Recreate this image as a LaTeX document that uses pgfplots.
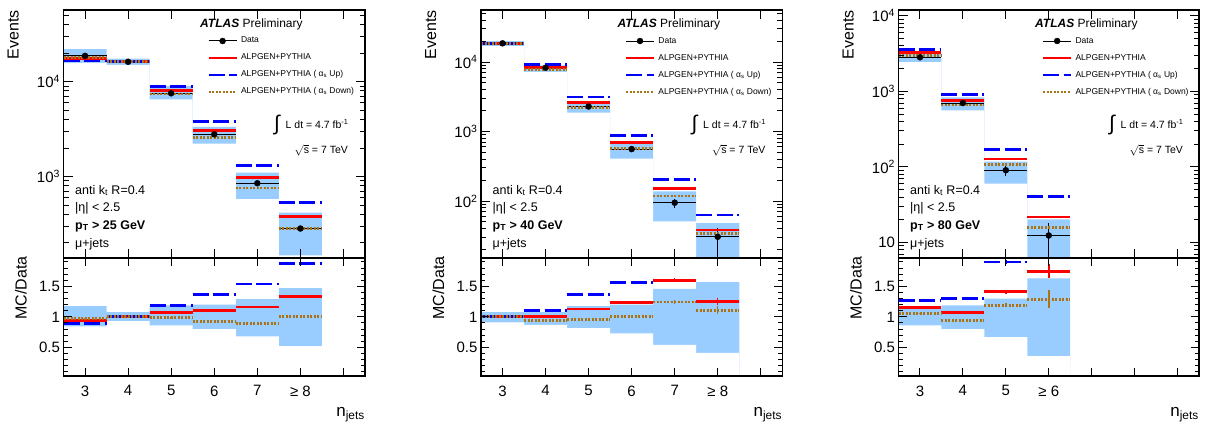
\documentclass[border=0pt]{standalone}
\usepackage{pgfplots}
\pgfplotsset{compat=1.18}
\usepackage{pgfplotstable}
\usepackage{fontspec}
\setmainfont{Liberation Sans}
\definecolor{bandblue}{RGB}{153,204,255}
\definecolor{mcred}{RGB}{255,0,0}
\definecolor{mcblue}{RGB}{0,0,255}
\definecolor{mcbrown}{RGB}{170,115,20}

% top panels: bin left edge, centre, data, MC (nominal, alpha_s up, alpha_s down), band low/high
\pgfplotstableread{
xl x d R U W BL BH
2.5 3 18700 17466 16550 18139 15802 21973
3.5 4 16200 16200 16200 16200 15066 17447
4.5 5 7550 8131 8985 7437 6493 8985
5.5 6 2790 3063 3814 2567 2232 3348
6.5 7 852 988 1312 758 579 1099
7.5 8 284 378 533 284 148 417
8.5 9 284 378 533 284 148 417
}\tA
\pgfplotstableread{
xl x d R U W BL BH
2.5 3 18600 18600 18600 18600 16889 20032
3.5 4 8280 8363 9149 7833 7204 8918
4.5 5 2290 2588 3130 2192 1866 2691
5.5 6 559 688 875 565 408 671
6.5 7 94.6 151 205 118 51.1 138
7.5 8 30.6 38.3 63.0 34.0 12.5 48.0
8.5 9 30.6 38.3 63.0 34.0 12.5 48.0
}\tB
\pgfplotstableread{
xl x d R U W BL BH
2.5 3 2820 3237 3581 2975 2425 3215
3.5 4 700 754 910 658 560 833
4.5 5 90.4 127.5 171.8 107.6 60.3 117.5
5.5 6 12.4 21.7 40.5 16.0 4.40 20.2
6.5 7 12.4 21.7 40.5 16.0 4.40 20.2
}\tC
% data error bars (low, high) on the top panels
\pgfplotstableread{
x y
3 18560
3 18840
3 nan
4 16070
4 16330
4 nan
5 7460
5 7640
5 nan
6 2735
6 2845
6 nan
7 822
7 882
7 nan
8 267
8 301
}\eA
\pgfplotstableread{
x y
3 18464
3 18736
3 nan
4 8189
4 8371
4 nan
5 2242
5 2338
5 nan
6 535
6 583
6 nan
7 80.6
7 108.6
7 nan
8 20.6
8 40.6
}\eB
\pgfplotstableread{
x y
3 2767
3 2873
3 nan
4 674
4 726
4 nan
5 75.4
5 105.4
5 nan
6 6.4
6 18.4
}\eC
% ratio panels: MC/Data with errors, band low/high
\pgfplotstableread{
xl x r re u ue w we lo hi
2.5 3 0.934 0.004 0.885 0.004 0.970 0.004 0.845 1.175
3.5 4 1.000 0.004 1.000 0.004 1.000 0.004 0.930 1.077
4.5 5 1.077 0.006 1.190 0.006 0.985 0.006 0.860 1.190
5.5 6 1.098 0.010 1.367 0.010 0.920 0.010 0.800 1.200
6.5 7 1.160 0.015 1.540 0.015 0.890 0.015 0.680 1.290
7.5 8 1.330 0.020 1.875 0.025 1.000 0.020 0.520 1.470
8.5 9 1.330 0.020 1.875 0.025 1.000 0.020 0.520 1.470
}\rA
\pgfplotstableread{
xl x r re u ue w we lo hi
2.5 3 1.000 0.004 1.000 0.004 1.000 0.004 0.908 1.077
3.5 4 1.010 0.006 1.105 0.006 0.946 0.006 0.870 1.077
4.5 5 1.130 0.010 1.367 0.010 0.957 0.010 0.815 1.175
5.5 6 1.230 0.015 1.565 0.015 1.010 0.015 0.730 1.200
6.5 7 1.600 0.030 2.170 0.040 1.245 0.030 0.540 1.460
7.5 8 1.250 0.060 2.060 0.070 1.110 0.070 0.410 1.570
8.5 9 1.250 0.060 2.060 0.070 1.110 0.070 0.410 1.570
}\rB
\pgfplotstableread{
xl x r re u ue w we lo hi
2.5 3 1.148 0.010 1.270 0.010 1.055 0.010 0.860 1.140
3.5 4 1.077 0.015 1.300 0.015 0.940 0.015 0.800 1.190
4.5 5 1.410 0.030 1.900 0.040 1.190 0.030 0.667 1.300
5.5 6 1.750 0.120 3.270 0.150 1.290 0.150 0.355 1.630
6.5 7 1.750 0.120 3.270 0.150 1.290 0.150 0.355 1.630
}\rC

\pgfplotsset{
  atlasbase/.style={scale only axis, xmin=2.5, xmax=9.5, xtick={3,4,5,6,7,8,9},
    axis on top,
    axis line style={line width=1.6pt},
    every tick/.style={black, line width=1pt},
    major tick length=9pt, minor tick length=5pt,
    tick label style={font=\fontsize{15}{15}\selectfont},
    anchor=north west},
  atlastop/.style={atlasbase, height=247.4pt, xticklabels={},
    legend style={at={(rel axis cs:0.466,0.905)}, anchor=north west, draw=none, fill=none,
      font=\fontsize{8.5}{8.5}\selectfont, row sep=7pt, column sep=2pt,
      nodes={inner sep=1pt, text height=6pt, text depth=2pt}},
    legend cell align=left},
  atlasrat/.style={atlasbase, height=118.3pt, ymin=0.03, ymax=1.97,
    ytick={0.5,1,1.5}, yticklabels={0.5,1,1.5},
    minor ytick={0.1,0.2,0.3,0.4,0.6,0.7,0.8,0.9,1.1,1.2,1.3,1.4,1.6,1.7,1.8,1.9},
    major tick length=8pt, minor tick length=4pt,
    xticklabel style={yshift=-6pt}},
  legdata/.style={legend image code/.code={\draw[black,line width=1pt](0pt,0pt)--(28pt,0pt);\fill[black](14pt,0pt) circle (3pt);}},
  legred/.style={legend image code/.code={\draw[mcred,line width=2.8pt](0pt,0pt)--(28pt,0pt);}},
  legblue/.style={legend image code/.code={\draw[mcblue,line width=2.8pt,dash pattern=on 16pt off 4.5pt](0pt,0pt)--(28pt,0pt);}},
  legbrown/.style={legend image code/.code={\draw[mcbrown,line width=2.8pt,dash pattern=on 2pt off 1.5pt](0pt,0pt)--(28pt,0pt);}},
  redline/.style={mcred, line width=2.8pt, jump mark left, mark=none, forget plot},
  blueline/.style={mcblue, line width=2.8pt, dash pattern=on 16pt off 4.5pt, jump mark left, mark=none, forget plot},
  brownline/.style={mcbrown, line width=2.8pt, dash pattern=on 2pt off 1.5pt, jump mark left, mark=none, forget plot},
}

% #1 top table, #2 error table, #3 index of duplicated last row
\newcommand{\topplots}[3]{%
  \addplot[forget plot, const plot, draw=none, fill=bandblue] table[x=xl, y=BH] {#1} \closedcycle;
  \addplot[forget plot, const plot, draw=none, fill=white] table[x=xl, y=BL] {#1} \closedcycle;
  \addplot[forget plot, black, line width=1pt, jump mark left, mark=none] table[x=xl, y=d] {#1};
  \addplot[forget plot, black, line width=1pt, mark=none, unbounded coords=jump] table[x=x, y=y] {#2};
  \addplot[forget plot, only marks, mark=*, mark size=3pt, black, skip coords between index={#3}{10}] table[x=x, y=d] {#1};
  \addplot[redline] table[x=xl, y=R] {#1};
  \addplot[blueline] table[x=xl, y=U] {#1};
  \addplot[brownline] table[x=xl, y=W] {#1};
  \addlegendimage{legdata}\addlegendentry{Data}
  \addlegendimage{legred}\addlegendentry{ALPGEN+PYTHIA}
  \addlegendimage{legblue}\addlegendentry{ALPGEN+PYTHIA ( α\textsubscript{s} Up)}
  \addlegendimage{legbrown}\addlegendentry{ALPGEN+PYTHIA ( α\textsubscript{s} Down)}
}
\newcommand{\mcerr}[5]{%
  \addplot[forget plot, only marks, mark=*, mark options={draw opacity=0, fill opacity=0},
    skip coords between index={#2}{10},
    error bars/.cd, y dir=both, y explicit, error mark=none,
    error bar style={#5, line width=1.5pt, solid}]
    table[x=x, y=#3, y error=#4] {#1};
}
\newcommand{\ratplots}[2]{%
  \addplot[forget plot, const plot, draw=none, fill=bandblue] table[x=xl, y=hi] {#1} \closedcycle;
  \addplot[forget plot, const plot, draw=none, fill=white] table[x=xl, y=lo] {#1} \closedcycle;
  \addplot[redline] table[x=xl, y=r] {#1};
  \mcerr{#1}{#2}{r}{re}{mcred}
  \addplot[blueline] table[x=xl, y=u] {#1};
  \mcerr{#1}{#2}{u}{ue}{mcblue}
  \addplot[brownline] table[x=xl, y=w] {#1};
  \mcerr{#1}{#2}{w}{we}{mcbrown}
}
% panel texts: #1 left edge of axis (pt), #2 pT cut, #3 right edge (pt)
\newcommand{\ptext}[3]{%
  \node[anchor=base west, inner sep=0pt, font=\fontsize{12}{12}\selectfont] at ({#1pt+136.5pt}, 401.5pt) {\textbf{\textit{ATLAS}} Preliminary};
  \node[anchor=center, inner sep=0pt, font=\fontsize{21}{21}\selectfont] at ({#1pt+213.5pt}, 304pt) {∫};
  \node[anchor=base west, inner sep=0pt, font=\fontsize{10.5}{10.5}\selectfont] at ({#1pt+222pt}, 300.5pt) {L dt = 4.7 fb\textsuperscript{-1}};
  \node[anchor=base west, inner sep=0pt, font=\fontsize{10.5}{10.5}\selectfont] at ({#1pt+231pt}, 275.5pt) {$\sqrt{\mbox{s}}$ = 7 TeV};
  \node[anchor=base west, inner sep=0pt, font=\fontsize{12.5}{12.5}\selectfont] at ({#1pt+11.5pt}, 235pt) {anti k\textsubscript{t} R=0.4};
  \node[anchor=base west, inner sep=0pt, font=\fontsize{12.5}{12.5}\selectfont] at ({#1pt+11.5pt}, 217.5pt) {|η| < 2.5};
  \node[anchor=base west, inner sep=0pt, font=\fontsize{12.5}{12.5}\selectfont] at ({#1pt+11.5pt}, 200pt) {\textbf{p\textsubscript{T} > #2 GeV}};
  \node[anchor=base west, inner sep=0pt, font=\fontsize{12.5}{12.5}\selectfont] at ({#1pt+11.5pt}, 181.5pt) {μ+jets};
  \node[rotate=90, anchor=base east, inner sep=0pt, font=\fontsize{16}{16}\selectfont] at ({#1pt-45pt}, 418.7pt) {Events};
  \node[rotate=90, anchor=base east, inner sep=0pt, font=\fontsize{16}{16}\selectfont] at ({#1pt-37pt}, 173pt) {MC/Data};
  \node[anchor=base east, inner sep=0pt, font=\fontsize{17}{17}\selectfont] at (#3pt, 12.3pt) {n\textsubscript{jets}};
}

\begin{document}
\begin{tikzpicture}
\path[use as bounding box] (0pt,0pt) rectangle (1206pt,429pt);

% ---------- panel 1 ----------
\begin{axis}[atlastop, ymode=log, at={(63.5pt,418.7pt)}, width=301.5pt, ymin=140, ymax=56500,
  ytick={1000,10000}, yticklabels={10\textsuperscript{3},10\textsuperscript{4}},
  minor ytick={200,300,400,500,600,700,800,900,2000,3000,4000,5000,6000,7000,8000,9000,20000,30000,40000,50000}]
\topplots{\tA}{\eA}{6}
\end{axis}
\begin{axis}[atlasrat, at={(63.5pt,171.3pt)}, width=301.5pt,
  xticklabels={3,4,5,6,7,≥ 8,}]
\ratplots{\rA}{6}
\end{axis}
\ptext{63.5}{25}{365}

% ---------- panel 2 ----------
\begin{axis}[atlastop, ymode=log, at={(481pt,418.7pt)}, width=301.3pt, ymin=15.3, ymax=55500,
  ytick={100,1000,10000}, yticklabels={10\textsuperscript{2},10\textsuperscript{3},10\textsuperscript{4}},
  minor ytick={20,30,40,50,60,70,80,90,200,300,400,500,600,700,800,900,2000,3000,4000,5000,6000,7000,8000,9000,20000,30000,40000,50000}]
\topplots{\tB}{\eB}{6}
\end{axis}
\begin{axis}[atlasrat, at={(481pt,171.3pt)}, width=301.3pt,
  xticklabels={3,4,5,6,7,≥ 8,}]
\ratplots{\rB}{6}
\end{axis}
\ptext{481}{40}{782.3}

% ---------- panel 3 ----------
\begin{axis}[atlastop, ymode=log, at={(898.5pt,418.7pt)}, width=300.5pt, ymin=6.3, ymax=11800,
  ytick={10,100,1000,10000}, yticklabels={10,10\textsuperscript{2},10\textsuperscript{3},10\textsuperscript{4}},
  minor ytick={7,8,9,20,30,40,50,60,70,80,90,200,300,400,500,600,700,800,900,2000,3000,4000,5000,6000,7000,8000,9000}]
\topplots{\tC}{\eC}{4}
\end{axis}
\begin{axis}[atlasrat, at={(898.5pt,171.3pt)}, width=300.5pt,
  xticklabels={3,4,5,≥ 6,,,}]
\ratplots{\rC}{4}
\end{axis}
\ptext{898.5}{80}{1199}

\end{tikzpicture}
\end{document}
